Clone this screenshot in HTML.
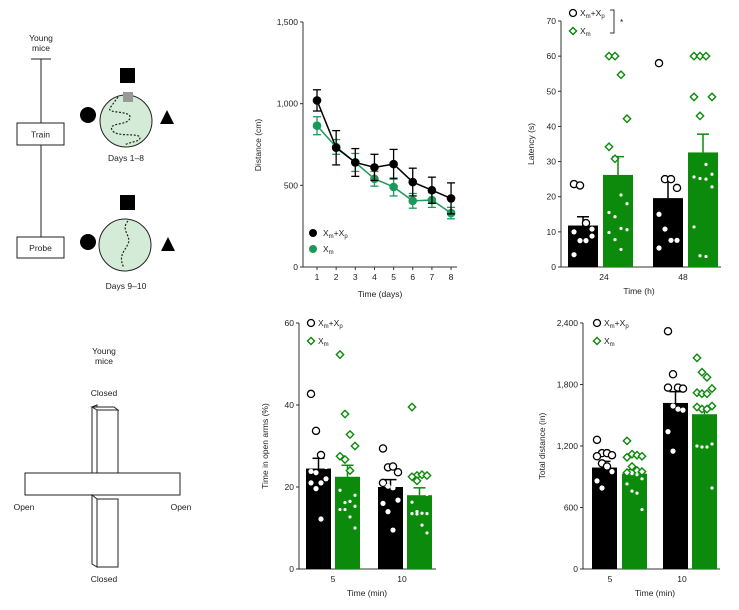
<!DOCTYPE html>
<html><head><meta charset="utf-8"><style>
body{margin:0;background:#fff;width:739px;height:605px;overflow:hidden}
svg{font-family:"Liberation Sans",Arial,sans-serif}
text{fill:#222}
</style></head><body>
<svg id="fig" width="739" height="605" viewBox="0 0 739 605">
<!-- Water maze schematic -->
<g font-size="8.5">
 <text x="41" y="41" text-anchor="middle">Young</text>
 <text x="41" y="51" text-anchor="middle">mice</text>
 <line x1="31" y1="59" x2="51" y2="59" stroke="#222" stroke-width="1"/>
 <line x1="41" y1="59" x2="41" y2="237" stroke="#222" stroke-width="1"/>
 <rect x="17" y="123" width="47" height="22" fill="#fff" stroke="#222"/>
 <text x="40.5" y="137.5" text-anchor="middle">Train</text>
 <rect x="17" y="237" width="47" height="21" fill="#fff" stroke="#222"/>
 <text x="40.5" y="251" text-anchor="middle">Probe</text>
 <circle cx="126" cy="121" r="26" fill="#d4ecd7" stroke="#222"/>
 <rect x="120" y="68" width="15" height="15" fill="#000"/>
 <circle cx="88" cy="115" r="8" fill="#000"/>
 <polygon points="160,124 167,110 174,124" fill="#000"/>
 <rect x="123" y="92" width="10" height="10" fill="#999"/>
 <path d="M118,97 L110,108 C106,114 132,110 130,118 C128,126 108,122 112,130 C116,138 140,132 140,138 C140,142 128,142 125,145" fill="none" stroke="#222" stroke-dasharray="2,1.6" stroke-width="1.2"/>
 <text x="126" y="161" text-anchor="middle">Days 1–8</text>
 <circle cx="125" cy="245" r="26" fill="#d4ecd7" stroke="#222"/>
 <rect x="120" y="195" width="15" height="15" fill="#000"/>
 <circle cx="88" cy="242" r="8" fill="#000"/>
 <polygon points="161,251 168,237 175,251" fill="#000"/>
 <path d="M128,221 C120,230 132,236 128,244 C124,252 118,256 124,268" fill="none" stroke="#222" stroke-dasharray="2,1.6" stroke-width="1.2"/>
 <text x="126" y="289" text-anchor="middle">Days 9–10</text>
</g>
<!-- Elevated plus maze -->
<g font-size="8.5">
 <text x="104" y="354" text-anchor="middle">Young</text>
 <text x="104" y="364" text-anchor="middle">mice</text>
 <text x="104" y="396" text-anchor="middle">Closed</text>
 <polygon points="92,407 97,405 97,476 92,478" fill="#fff" stroke="#222"/>
 <polygon points="92,407 114,407 118,410 97,410" fill="#fff" stroke="#222"/>
 <rect x="97" y="410" width="21" height="66" fill="#fff" stroke="#222"/>
 <rect x="25" y="473" width="155" height="22" fill="#fff" stroke="#222"/>
 <polygon points="92,495 97,499 97,567 92,564" fill="#fff" stroke="#222"/>
 <rect x="97" y="499" width="21" height="68" fill="#fff" stroke="#222"/>
 <text x="24" y="510" text-anchor="middle">Open</text>
 <text x="181" y="510" text-anchor="middle">Open</text>
 <text x="104" y="582" text-anchor="middle">Closed</text>
</g>
<g id="charts"></g>
</svg>
<script>
// ---- Line chart data (distance per day) ----
const days = [1,2,3,4,5,6,7,8];
const distXmXp = [1020,730,640,610,630,520,470,420];
const distXmXpErr = [65,105,85,80,90,85,80,95];
const distXm = [865,735,640,540,490,405,410,330];
const distXmErr = [55,45,55,45,55,45,45,35];
const distTicks = [0,500,1000,1500];
const distTickLabels = ["0","500","1,000","1,500"];

// ---- Latency ----
const latCats = ["24","48"];
const latTicks = [0,10,20,30,40,50,60,70];
const latBarXmXp = [11.8,19.6];
const latErrXmXp = [2.5,5.6];
const latBarXm = [26.2,32.6];
const latErrXm = [5.2,5.2];
const latPtsXmXp = [[23.6,23.2,12.5,10.8,10,7.5,7.5,8.8,3.5],[58,25,25,22.5,15,10.8,7.6,7.6,5.4]];
const latPtsXm = [[60,60,54.7,42.2,34.2,30.8,20.5,18,15.5,14.3,11,10.6,9.8,7.8,5],[60,60,60,48.4,48.4,43,29.2,26.4,25.6,25.2,25,22.8,11.4,3.2,3]];

// ---- Open arms ----
const openCats = ["5","10"];
const openTicks = [0,20,40,60];
const openBarXmXp = [24.5,20];
const openErrXmXp = [2.5,1.8];
const openBarXm = [22.5,18];
const openErrXm = [2.8,1.8];
const openPtsXmXp = [[42.7,33.7,27.8,25,23.8,23.5,21,22,21,19.6,12.2],[29.4,24.8,25,23.6,21,20.2,19.8,16.8,16,14,9.5]];
const openPtsXm = [[52.3,37.8,32.8,30,27.5,26.7,24,18,19.2,16.2,16.5,15.3,14.5,14.5,12.7,10],[39.5,22.8,23,22.8,22.5,21.5,18.4,18.2,16.3,14,13.6,13.5,13.5,13.4,10.7,8.8]];

// ---- Total distance ----
const totCats = ["5","10"];
const totTicks = [0,600,1200,1800,2400];
const totTickLabels = ["0","600","1,200","1,800","2,400"];
const totBarXmXp = [990,1620];
const totErrXmXp = [60,110];
const totBarXm = [930,1510];
const totErrXm = [40,60];
const totPtsXmXp = [[1260,1130,1130,1110,1100,1030,1000,950,860,790],[2320,1900,1770,1760,1770,1590,1560,1550,1340,1150]];
const totPtsXm = [[1250,1120,1110,1100,1090,1000,960,950,940,930,920,880,830,760,740,580],[2060,1920,1870,1760,1720,1710,1710,1590,1580,1560,1560,1220,1200,1190,1190,790]];

const NS="http://www.w3.org/2000/svg";
const root=document.getElementById('charts');
function mk(tag,attrs,parent){const e=document.createElementNS(NS,tag);for(const k in attrs)e.setAttribute(k,attrs[k]);(parent||root).appendChild(e);return e;}
function txt(s,x,y,parent,extra){const t=mk('text',Object.assign({x:x,y:y,'font-size':8.5},extra||{}),parent);t.textContent=s;return t;}
function sub(parent,x,y,green,anchorSize){
  const t=mk('text',{x:x,y:y,'font-size':8.5},parent);
  const a=document.createElementNS(NS,'tspan');a.textContent='X';t.appendChild(a);
  const b=document.createElementNS(NS,'tspan');b.textContent='m';b.setAttribute('font-size','6');b.setAttribute('dy','2');t.appendChild(b);
  if(!green){const c=document.createElementNS(NS,'tspan');c.textContent='+X';c.setAttribute('dy','-2');t.appendChild(c);
  const d=document.createElementNS(NS,'tspan');d.textContent='p';d.setAttribute('font-size','6');d.setAttribute('dy','2');t.appendChild(d);}
  return t;
}
const GREEN="#0b8a0b", LGREEN="#1a9a5a";

// ===== Line chart =====
(function(){
 const g=mk('g',{});
 
 
 const X0=303,Y0=267,Y1=22,yMax=1500;
 const y=v=>Y0-(v/yMax)*(Y0-Y1);
 const x=d=>317+(d-1)*19.15;
 mk('line',{x1:X0,y1:Y1,x2:X0,y2:Y0,stroke:'#333'},g);
 mk('line',{x1:X0,y1:Y0,x2:457,y2:Y0,stroke:'#333'},g);
 distTicks.forEach((t,i)=>{mk('line',{x1:X0-3,y1:y(t),x2:X0,y2:y(t),stroke:'#333'},g);
   const l=txt(distTickLabels[i],X0-5,y(t)+3,g,{'text-anchor':'end'});
   
   });
 days.forEach(d=>{mk('line',{x1:x(d),y1:Y0,x2:x(d),y2:Y0+3,stroke:'#333'},g);
   txt(String(d),x(d),Y0+13,g,{'text-anchor':'middle'});});
 const xt=txt('Time (days)',380,297,g,{'text-anchor':'middle'});
 
 
 const yt=txt('Distance (cm)',0,0,g,{'text-anchor':'middle',transform:'translate(261,145) rotate(-90)'});
 
 
 function series(vals,errs,col,name){
   const s=mk('g',{},g);
   
   
   mk('polyline',{points:vals.map((v,i)=>x(days[i])+','+y(v)).join(' '),fill:'none',stroke:col,'stroke-width':1.5},s);
   vals.forEach((v,i)=>{const cx=x(days[i]);
     mk('line',{x1:cx,y1:y(v-errs[i]),x2:cx,y2:y(v+errs[i]),stroke:col,'stroke-width':1.3},s);
     mk('line',{x1:cx-4,y1:y(v+errs[i]),x2:cx+4,y2:y(v+errs[i]),stroke:col,'stroke-width':1.3},s);
     mk('line',{x1:cx-4,y1:y(v-errs[i]),x2:cx+4,y2:y(v-errs[i]),stroke:col,'stroke-width':1.3},s);
     const p=mk('circle',{cx:cx,cy:y(v),r:4.3,fill:col},s);
     
     });
 }
 series(distXm,distXmErr,LGREEN,'series-xm');
 series(distXmXp,distXmXpErr,'#000','series-xm-xp');
 const lg=mk('g',{},g);
 
 
 mk('circle',{cx:313,cy:233,r:4,fill:'#000'},lg); sub(lg,323,236,false);
 mk('circle',{cx:313,cy:249,r:4,fill:LGREEN},lg); sub(lg,323,252,true);
})();

// ===== Bar charts =====
function barChart(o){
 const g=mk('g',{});
 
 
 const y=v=>o.Y0-(v/o.yMax)*(o.Y0-o.Y1);
 mk('line',{x1:o.X0,y1:o.Y1,x2:o.X0,y2:o.Y0,stroke:'#333'},g);
 mk('line',{x1:o.X0,y1:o.Y0,x2:o.Xend,y2:o.Y0,stroke:'#333'},g);
 o.ticks.forEach((t,i)=>{mk('line',{x1:o.X0-3,y1:y(t),x2:o.X0,y2:y(t),stroke:'#333'},g);
   const l=txt(o.tickLabels?o.tickLabels[i]:String(t),o.X0-5,y(t)+3,g,{'text-anchor':'end'});
   
   });
 o.cats.forEach((c,i)=>{txt(c,o.catX[i],o.Y0+13,g,{'text-anchor':'middle'});});
 const xt=txt(o.xTitle,o.xTitleX,o.Y0+27,g,{'text-anchor':'middle'});
 
 
 const yt=txt(o.yTitle,0,0,g,{'text-anchor':'middle',transform:'translate('+o.yTitleX+','+((o.Y0+o.Y1)/2)+') rotate(-90)'});
 
 
 function grp(left,val,err,pts,col,isGreen,nm){
   const w=o.bw;
   const b=mk('rect',{x:left,y:y(val),width:w,height:o.Y0-y(val),fill:col},g);
   
   
   const cx=left+w/2;
   mk('line',{x1:cx,y1:y(val),x2:cx,y2:y(val+err),stroke:col,'stroke-width':1.5},g);
   mk('line',{x1:cx-6,y1:y(val+err),x2:cx+6,y2:y(val+err),stroke:col,'stroke-width':1.5},g);
   pts.forEach((v,i)=>{
     const dx=((i%4)-1.5)*(w/5);
     const px=cx+dx, py=y(v);
     let m;
     if(v>val+0.5){
       if(isGreen) m=mk('rect',{x:px-2.6,y:py-2.6,width:5.2,height:5.2,fill:'#fff',stroke:col,'stroke-width':1.4,transform:'rotate(45 '+px+' '+py+')'},g);
       else m=mk('circle',{cx:px,cy:py,r:3.6,fill:'#fff',stroke:'#000','stroke-width':1.3},g);
     } else m=mk('circle',{cx:px,cy:py,r:isGreen?1.6:2.6,fill:'#fff'},g);
     
     
   });
 }
 o.cats.forEach((c,i)=>{
   grp(o.blackX[i],o.barA[i],o.errA[i],o.ptsA[i],'#000',false,'bar-xm-xp-'+c);
   grp(o.greenX[i],o.barB[i],o.errB[i],o.ptsB[i],GREEN,true,'bar-xm-'+c);
 });
 const lg=mk('g',{},g);
 
 
 mk('circle',{cx:o.legX,cy:o.legY,r:3.5,fill:'#fff',stroke:'#000','stroke-width':1.3},lg);
 sub(lg,o.legX+7,o.legY+3,false);
 const lx=o.legX, ly=o.legY+18;
 mk('rect',{x:lx-2.5,y:ly-2.5,width:5,height:5,fill:'#fff',stroke:GREEN,'stroke-width':1.4,transform:'rotate(45 '+lx+' '+ly+')'},lg);
 sub(lg,o.legX+7,ly+3,true);
 return g;
}
const gl=barChart({name:'latency-bar-chart',X0:561,Xend:721,Y0:267,Y1:21,yMax:70,ticks:latTicks,cats:latCats,catX:[604,683],
 xTitle:'Time (h)',xTitleX:639,yTitle:'Latency (s)',yTitleX:534,bw:30,blackX:[568,653],greenX:[603,688],
 barA:latBarXmXp,errA:latErrXmXp,barB:latBarXm,errB:latErrXm,ptsA:latPtsXmXp,ptsB:latPtsXm,legX:573,legY:13});
const br=mk('path',{d:'M610,10 L614,10 L614,33 L610,33',fill:'none',stroke:'#333'},gl);


txt('*',620,25,gl);
barChart({name:'open-arms-bar-chart',X0:299,Xend:436,Y0:569,Y1:323,yMax:60,ticks:openTicks,cats:openCats,catX:[333,402],
 xTitle:'Time (min)',xTitleX:367,yTitle:'Time in open arms (%)',yTitleX:268,bw:25,blackX:[306,378],greenX:[335,407],
 barA:openBarXmXp,errA:openErrXmXp,barB:openBarXm,errB:openErrXm,ptsA:openPtsXmXp,ptsB:openPtsXm,legX:311,legY:323});
barChart({name:'total-distance-bar-chart',X0:583,Xend:720,Y0:569,Y1:323,yMax:2400,ticks:totTicks,tickLabels:totTickLabels,cats:totCats,catX:[610,682],
 xTitle:'Time (min)',xTitleX:655,yTitle:'Total distance (in)',yTitleX:545,bw:25,blackX:[592,663],greenX:[622,692],
 barA:totBarXmXp,errA:totErrXmXp,barB:totBarXm,errB:totErrXm,ptsA:totPtsXmXp,ptsB:totPtsXm,legX:597,legY:323});
</script>
</body></html>
